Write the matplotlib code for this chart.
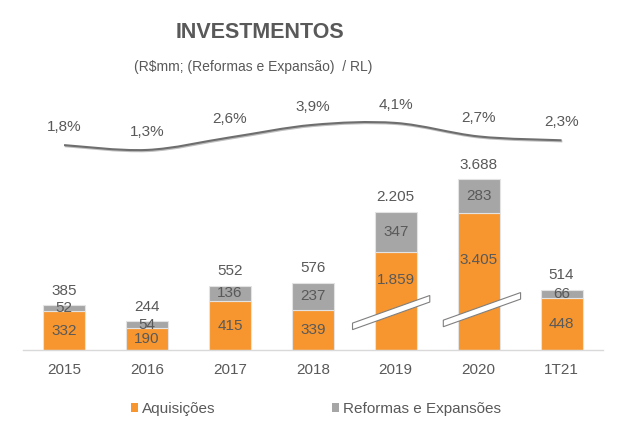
import matplotlib
matplotlib.use('Agg')
import matplotlib.pyplot as plt
from matplotlib.path import Path
from matplotlib.patches import PathPatch, Polygon
import matplotlib.patheffects as pe
import numpy as np

plt.rcParams['font.family'] = ['Liberation Sans', 'DejaVu Sans']

# ---------------- data ----------------
categories = ['2015', '2016', '2017', '2018', '2019', '2020', '1T21']
aquisicoes = [332, 190, 415, 339, 1859, 3405, 448]
reformas = [52, 54, 136, 237, 347, 283, 66]
totals = [385, 244, 552, 576, 2205, 3688, 514]
ratio_pct = [1.8, 1.3, 2.6, 3.9, 4.1, 2.7, 2.3]
ratio_labels = ['1,8%', '1,3%', '2,6%', '3,9%', '4,1%', '2,7%', '2,3%']
axis_cut = [0, 0, 0, 0, 1025, 2230, 0]   # value hidden by the axis break

# ---------------- style ----------------
ORANGE = '#F7962F'
GRAY = '#A6A6A6'
TXT = '#595959'
LINE = '#6E6E6E'
FS = 11

def fmt(v):
    return f"{v:,}".replace(',', '.')

fig = plt.figure(figsize=(6.3, 4.3), dpi=100)
ax = fig.add_axes([22.6 / 630, 80 / 430, 580.4 / 630, 250 / 430])

x = np.arange(len(categories))
aq_disp = [a - c for a, c in zip(aquisicoes, axis_cut)]
width = 0.506

b1 = ax.bar(x, aq_disp, width, color=ORANGE, edgecolor='#E3E3E3', linewidth=0.8,
            label='Aquisições', zorder=2)
b2 = ax.bar(x, reformas, width, bottom=aq_disp, color=GRAY, edgecolor='#E3E3E3',
            linewidth=0.8, label='Reformas e Expansões', zorder=2)

ax.set_xlim(-0.5, len(categories) - 0.5)
ax.set_ylim(0, 2137)
ax.set_yticks([])
ax.set_xticks(x)
ax.set_xticklabels(categories, fontsize=FS, color=TXT)
ax.tick_params(axis='x', length=0, pad=9)
for s in ['top', 'right', 'left']:
    ax.spines[s].set_visible(False)
ax.spines['bottom'].set_color('#D9D9D9')
ax.spines['bottom'].set_linewidth(1.0)

# axis-break symbols (style constants)
breaks = {4: (3.945, 320), 5: (5.04, 345)}
hw, hr, th = 0.466, 118, 56
break_top = {}
for i, (cx, cy) in breaks.items():
    pts = [(cx - hw, cy - hr - th / 2), (cx - hw, cy - hr + th / 2),
           (cx + hw, cy + hr + th / 2), (cx + hw, cy + hr - th / 2)]
    ax.add_patch(Polygon(pts, closed=True, facecolor='white', edgecolor='#7F7F7F',
                         linewidth=0.8, zorder=3))
    break_top[i] = cy + hr * (i - cx) / hw + th / 2

# labels
for i in x:
    a_top = aq_disp[i]
    if axis_cut[i] > 0:
        ya = (break_top[i] + a_top) / 2
    else:
        ya = a_top / 2
    ax.text(i, ya, fmt(aquisicoes[i]), ha='center', va='center', fontsize=FS,
            color=TXT, zorder=4)
    ax.text(i, a_top + reformas[i] / 2, fmt(reformas[i]), ha='center', va='center',
            fontsize=FS, color=TXT, zorder=4)
    ax.annotate(fmt(totals[i]), (i, a_top + reformas[i]), xytext=(0, 10.4),
                textcoords='offset points', ha='center', va='center',
                fontsize=FS, color=TXT, zorder=4)

# ratio line on secondary axis (smoothed like the spreadsheet line)
ax2 = ax.twinx()
ax2.set_ylim(-19.45, 6.48)
ax2.axis('off')

P = np.column_stack([x, ratio_pct]).astype(float)
verts = [tuple(P[0])]
codes = [Path.MOVETO]
n = len(P)
for k in range(n - 1):
    p0 = P[k - 1] if k > 0 else P[k]
    p1, p2 = P[k], P[k + 1]
    p3 = P[k + 2] if k + 2 < n else P[k + 1]
    c1 = p1 + (p2 - p0) / 6.0
    c2 = p2 - (p3 - p1) / 6.0
    verts += [tuple(c1), tuple(c2), tuple(p2)]
    codes += [Path.CURVE4] * 3
patch = PathPatch(Path(verts, codes), facecolor='none', edgecolor=LINE,
                  linewidth=1.5, zorder=3,
                  path_effects=[pe.SimpleLineShadow(offset=(0.6, -0.8), alpha=0.25),
                                pe.Normal()])
ax2.add_patch(patch)

for i in x:
    ax2.annotate(ratio_labels[i], (i, ratio_pct[i]), xytext=(0, 13),
                 textcoords='offset points', ha='center', va='center',
                 fontsize=FS, color=TXT)

# titles
fig.text(260 / 630, 1 - 33 / 430, 'INVESTMENTOS', ha='center', va='center',
         fontsize=15.5, fontweight='bold', color=TXT)
fig.text(253.5 / 630, 1 - 67 / 430, '(R$mm; (Reformas e Expansão)  / RL)',
         ha='center', va='center', fontsize=10, color=TXT)

# legend
leg = fig.legend(handles=[b1, b2], loc='center left',
                 bbox_to_anchor=(130.7 / 630, 1 - 409 / 430), ncol=2,
                 frameon=False, fontsize=FS, handlelength=0.45, handleheight=0.45,
                 handletextpad=0.3, columnspacing=7.6, borderpad=0, borderaxespad=0)
for t in leg.get_texts():
    t.set_color(TXT)
for h in leg.legend_handles:
    h.set_edgecolor('none')

fig.savefig('out.png', dpi=100)
